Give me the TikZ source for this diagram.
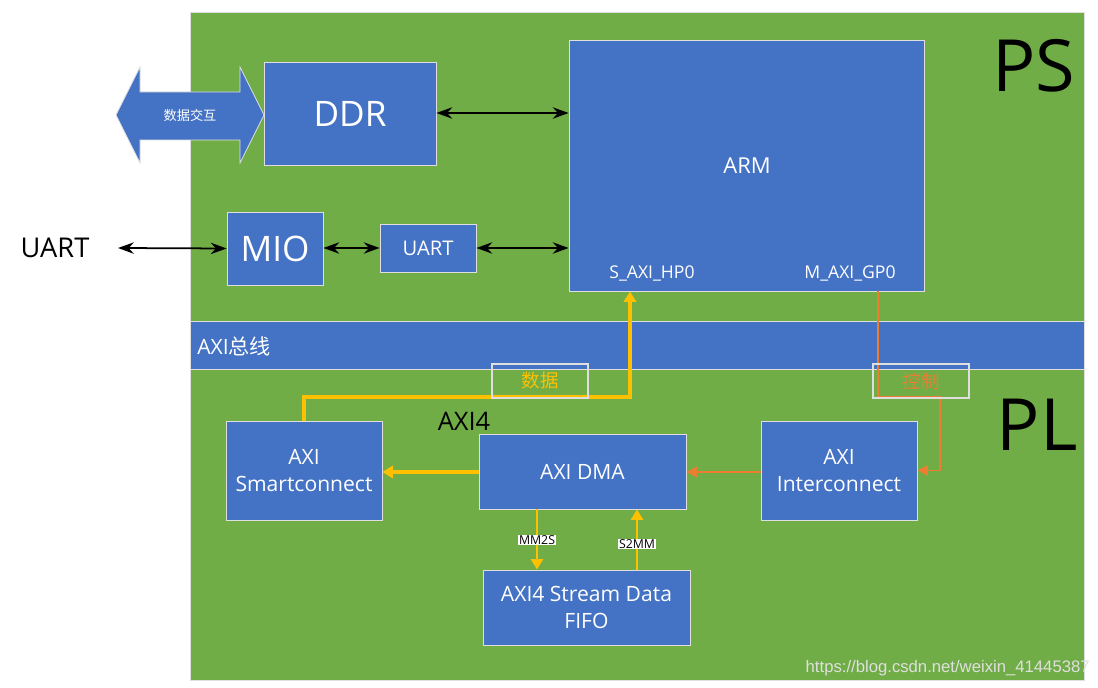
\documentclass[tikz,border=0pt]{standalone}
\usepackage{fontspec}
\setmainfont{Open Sans}
\newfontfamily\cjk{Noto Sans CJK SC}
\newfontfamily\wmfont{Liberation Sans}
\usetikzlibrary{arrows.meta}
\definecolor{plgreen}{HTML}{70AD47}
\definecolor{boxblue}{HTML}{4472C4}
\definecolor{datayellow}{HTML}{FFC000}
\definecolor{ctrlorange}{HTML}{ED7D31}
\newcommand{\fs}[1]{\fontsize{#1}{1.25\dimexpr#1\relax}\selectfont}

\begin{document}
\begin{tikzpicture}[x=0.02cm, y=-0.02cm,
  blk/.style={fill=boxblue, draw=gray!25, line width=0.5pt, text=white,
    inner sep=0pt, align=center},
  tag/.style={draw=gray!25, line width=0.6pt, inner sep=0pt,
    minimum width=1.92cm, minimum height=0.68cm},
  bidir/.style={line width=1pt, {Stealth[length=9pt,width=6.5pt]}-{Stealth[length=9pt,width=6.5pt]}},
  dataline/.style={datayellow, line width=1.9pt, -{Triangle[length=6pt,width=7pt]}},
  thinline/.style={datayellow, line width=1.1pt, -{Triangle[length=6pt,width=7pt]}},
  ctrlline/.style={ctrlorange, line width=0.9pt, -{Triangle[length=6pt,width=6pt]}},
  chan/.style={fill=white, inner sep=0.5pt, font=\fs{7pt}}]
  \useasboundingbox (0, 0) rectangle (1098, 688);

  \fill[plgreen, draw=gray!25] (190, 12) rectangle (1084, 680);
  \fill[boxblue, draw=gray!25] (190, 321) rectangle (1084, 369);
  \node[anchor=west, text=white, font=\fs{12pt}, inner sep=0pt] (bus) at (197, 346)
    {AXI{\cjk 总线}};
  \node[font=\fs{41pt}, inner sep=0pt] (ps) at (1034, 66) {PS};
  \node[font=\fs{41pt}, inner sep=0pt] (pl) at (1037, 425) {PL};

  % PS side
  \fill[boxblue, draw=gray!25] (116, 115) -- (140, 67) -- (140, 92) -- (240, 92)
    -- (240, 67) -- (264, 115) -- (240, 163) -- (240, 140) -- (140, 140)
    -- (140, 163) -- cycle;
  \node[text=white, font=\cjk\fs{7.5pt}] (xchg) at (190, 115) {数据交互};
  \node[blk, minimum width=3.44cm, minimum height=2.06cm, font=\fs{20pt}] (ddr)
    at (350, 113.5) {DDR};
  \node[blk, minimum width=7.10cm, minimum height=5.02cm] (arm) at (746.5, 165.5) {};
  \node[text=white, font=\fs{12.5pt}] (armtxt) at (747, 166) {ARM};
  \node[text=white, font=\fs{10pt}] (hp0) at (652, 273) {S\_AXI\_HP0};
  \node[text=white, font=\fs{10pt}] (gp0) at (850, 273) {M\_AXI\_GP0};
  \node[blk, minimum width=1.92cm, minimum height=1.46cm, font=\fs{20pt}] (mio)
    at (275, 248.5) {MIO};
  \node[blk, minimum width=1.92cm, minimum height=0.96cm, font=\fs{11.5pt}] (uart)
    at (428, 248) {UART};
  \node[font=\fs{15.5pt}] (ext) at (55, 248) {UART};

  \coordinate (extend) at (118, 248);
  \draw[bidir] (ddr.east |- 0, 113) -- (arm.west |- 0, 113);
  \draw[bidir] (extend) -- (mio.west);
  \draw[bidir] (mio.east |- uart.west) -- (uart.west);
  \draw[bidir] (uart.east) -- (arm.west |- uart.east);

  % PL side
  \node[blk, minimum width=3.12cm, minimum height=1.98cm, font=\fs{12pt}] (smart)
    at (304, 470.5) {AXI\\Smartconnect};
  \node[blk, minimum width=4.14cm, minimum height=1.50cm, font=\fs{12pt}] (dma)
    at (582.5, 471.5) {AXI DMA};
  \node[blk, minimum width=3.12cm, minimum height=1.98cm, font=\fs{12pt}] (inter)
    at (839, 470.5) {AXI\\Interconnect};
  \node[blk, minimum width=4.14cm, minimum height=1.50cm, font=\fs{12pt}] (fifo)
    at (586.5, 607.5) {AXI4 Stream Data\\FIFO};
  \node[font=\fs{14.5pt}] (axi4) at (464, 421) {AXI4};

  \coordinate (hpturn) at (630, 397);
  \coordinate (gpdown) at (878, 397);
  \coordinate (gpturn) at (940, 397);
  \draw[dataline] (smart.north) |- (hpturn) -- (hpturn |- arm.south);
  \draw[ctrlline] (gpdown |- arm.south) -- (gpdown) -- (gpturn) |- (inter.east);
  \draw[dataline] (dma.west |- 0, 472) -- (smart.east |- 0, 472);
  \draw[ctrlline] (inter.west |- 0, 472) -- (dma.east |- 0, 472);
  \node[tag, text=datayellow, font=\cjk\fs{10.5pt}] (datatag) at (540, 381) {数据};
  \node[tag, text=ctrlorange, font=\cjk\fs{10.5pt}] (ctrltag) at (921, 381) {控制};

  \coordinate (mm) at (537, 0);
  \coordinate (ss) at (637, 0);
  \draw[thinline] (mm |- dma.south) -- (mm |- fifo.north);
  \draw[thinline] (ss |- fifo.north) -- (ss |- dma.south);
  \node[chan] (mm2s) at (537, 540) {MM2S};
  \node[chan] (s2mm) at (637, 544) {S2MM};

  \node[text=gray!25, font=\wmfont\fs{9.5pt}, anchor=east, inner sep=0pt] (mark)
    at (1090, 668) {https://blog.csdn.net/weixin\_41445387};
\end{tikzpicture}
\end{document}
